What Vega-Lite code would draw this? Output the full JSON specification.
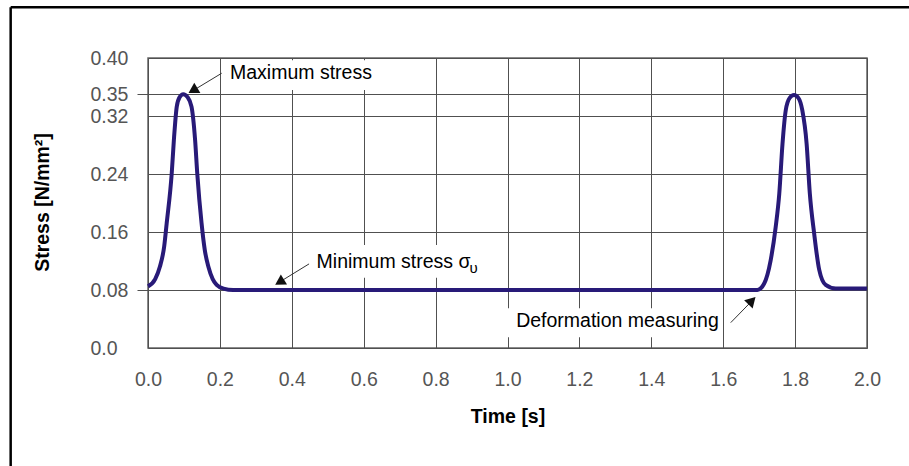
{
  "$schema": "https://vega.github.io/schema/vega-lite/v6.json",
  "width": 719,
  "height": 290,
  "autosize": {"type": "none"},
  "padding": {"left": 148, "top": 58, "right": 42, "bottom": 118},
  "background": "white",
  "config": {"view": {"stroke": "#666666", "strokeWidth": 1.5}, "font": "Liberation Sans"},
  "datasets": {
    "curve": [
      {"x": 0.0, "y": 0.085}, {"x": 0.02, "y": 0.095}, {"x": 0.033, "y": 0.112}, {"x": 0.045, "y": 0.14},
      {"x": 0.052, "y": 0.172}, {"x": 0.066, "y": 0.241}, {"x": 0.072, "y": 0.287}, {"x": 0.08, "y": 0.333},
      {"x": 0.088, "y": 0.346}, {"x": 0.098, "y": 0.35}, {"x": 0.11, "y": 0.346}, {"x": 0.121, "y": 0.333},
      {"x": 0.131, "y": 0.287}, {"x": 0.137, "y": 0.241}, {"x": 0.149, "y": 0.172}, {"x": 0.158, "y": 0.135},
      {"x": 0.168, "y": 0.112}, {"x": 0.18, "y": 0.095}, {"x": 0.191, "y": 0.087}, {"x": 0.21, "y": 0.082},
      {"x": 0.237, "y": 0.08}, {"x": 1.695, "y": 0.08}, {"x": 1.714, "y": 0.089}, {"x": 1.732, "y": 0.121},
      {"x": 1.746, "y": 0.167}, {"x": 1.756, "y": 0.213}, {"x": 1.765, "y": 0.282}, {"x": 1.774, "y": 0.328},
      {"x": 1.785, "y": 0.345}, {"x": 1.797, "y": 0.349}, {"x": 1.809, "y": 0.345}, {"x": 1.82, "y": 0.328},
      {"x": 1.832, "y": 0.282}, {"x": 1.841, "y": 0.213}, {"x": 1.853, "y": 0.158}, {"x": 1.867, "y": 0.108},
      {"x": 1.885, "y": 0.087}, {"x": 1.913, "y": 0.082}, {"x": 2.0, "y": 0.082}
    ],
    "frame": [
      {"x": -0.382, "y": 0.4699, "x2": 2.13, "y2": 0.4699},
      {"x": -0.382, "y": 0.4699, "x2": -0.382, "y2": -0.18}
    ],
    "boxes": [
      {"id": "max", "x": 0.214, "x2": 0.644, "y": 0.397, "y2": 0.356},
      {"id": "min", "x": 0.455, "x2": 0.955, "y": 0.142, "y2": 0.097},
      {"id": "def", "x": 0.992, "x2": 1.594, "y": 0.055, "y2": 0.015}
    ],
    "arrows": [
      {"id": "max", "x": 0.205, "y": 0.379, "x2": 0.125, "y2": 0.355},
      {"id": "min", "x": 0.448, "y": 0.116, "x2": 0.366, "y2": 0.091},
      {"id": "def", "x": 1.621, "y": 0.035, "x2": 1.68, "y2": 0.065}
    ],
    "heads": [
      {"id": "max", "x": 0.125, "y": 0.3552},
      {"id": "min", "x": 0.366, "y": 0.0909},
      {"id": "def", "x": 1.68, "y": 0.0652}
    ],
    "notes": [
      {"label": "Maximum stress", "x": 0.228, "y": 0.379},
      {"label": "Minimum stress σ", "x": 0.469, "y": 0.119},
      {"label": "Deformation measuring", "x": 1.024, "y": 0.0377}
    ],
    "subs": [
      {"label": "υ", "x": 0.894, "y": 0.11}
    ]
  },
  "layer": [
    {
      "data": {"name": "curve"},
      "mark": {"type": "line", "color": "#281a78", "strokeWidth": 4, "interpolate": "monotone"},
      "encoding": {
        "x": {
          "field": "x", "type": "quantitative",
          "scale": {"domain": [0, 2], "nice": false, "zero": false},
          "axis": {
            "values": [0, 0.2, 0.4, 0.6, 0.8, 1.0, 1.2, 1.4, 1.6, 1.8, 2.0],
            "labelExpr": "format(datum.value, '.1f')",
            "grid": true, "gridColor": "#505050", "gridWidth": 1, "gridOpacity": 1,
            "ticks": false, "domain": false,
            "labelPadding": 31, "labelBaseline": "middle", "labelAlign": "center",
            "labelFont": "Liberation Sans", "labelFontSize": 19.5, "labelColor": "#555555",
            "labelOverlap": false, "labelFlush": false, "labelBound": false,
            "title": "Time [s]", "titleFont": "Liberation Sans", "titleFontSize": 19.5,
            "titleFontWeight": "bold", "titleColor": "#000000",
            "titleX": 359.5, "titleY": 68, "titleAlign": "center", "titleBaseline": "middle"
          }
        },
        "y": {
          "field": "y", "type": "quantitative",
          "scale": {"domain": [0, 0.4], "nice": false, "zero": false},
          "axis": {
            "values": [0, 0.08, 0.16, 0.24, 0.32, 0.35, 0.4],
            "labelExpr": "datum.value == 0 ? '0.0' : format(datum.value, '.2f')",
            "grid": true, "gridColor": "#505050", "gridWidth": 1, "gridOpacity": 1,
            "domain": false, "ticks": true, "tickSize": 11, "tickWidth": 1,
            "tickColor": {"condition": {"test": "datum.value == 0.35 || datum.value == 0.08", "value": "#505050"}, "value": "transparent"},
            "labelAlign": "left", "labelPadding": 47, "labelBaseline": "middle",
            "labelFont": "Liberation Sans", "labelFontSize": 19.5, "labelColor": "#555555",
            "labelOverlap": false, "labelFlush": false, "labelBound": false,
            "title": "Stress [N/mm²]", "titleFont": "Liberation Sans", "titleFontSize": 19.5,
            "titleFontWeight": "bold", "titleColor": "#000000",
            "titleX": -106, "titleY": 144, "titleAngle": -90, "titleAlign": "center", "titleBaseline": "middle"
          }
        }
      }
    },
    {
      "data": {"name": "boxes"},
      "mark": {"type": "rect", "color": "white", "opacity": 1},
      "encoding": {
        "x": {"field": "x", "type": "quantitative", "scale": {"domain": [0, 2], "nice": false, "zero": false}},
        "x2": {"field": "x2"},
        "y": {"field": "y", "type": "quantitative", "scale": {"domain": [0, 0.4], "nice": false, "zero": false}},
        "y2": {"field": "y2"}
      }
    },
    {
      "data": {"name": "frame"},
      "mark": {"type": "rule", "color": "#000000", "strokeWidth": 2.5},
      "encoding": {
        "x": {"field": "x", "type": "quantitative", "scale": {"domain": [0, 2], "nice": false, "zero": false}},
        "x2": {"field": "x2"},
        "y": {"field": "y", "type": "quantitative", "scale": {"domain": [0, 0.4], "nice": false, "zero": false}},
        "y2": {"field": "y2"}
      }
    },
    {
      "data": {"name": "arrows"},
      "mark": {"type": "rule", "color": "#333333", "strokeWidth": 1},
      "encoding": {
        "x": {"field": "x", "type": "quantitative", "scale": {"domain": [0, 2], "nice": false, "zero": false}},
        "x2": {"field": "x2"},
        "y": {"field": "y", "type": "quantitative", "scale": {"domain": [0, 0.4], "nice": false, "zero": false}},
        "y2": {"field": "y2"}
      }
    },
    {
      "data": {"name": "heads"},
      "transform": [{"filter": "datum.id == 'max'"}],
      "mark": {"type": "point", "shape": "triangle-up", "filled": true, "color": "#111111", "opacity": 1, "size": 140, "angle": 239},
      "encoding": {
        "x": {"field": "x", "type": "quantitative", "scale": {"domain": [0, 2], "nice": false, "zero": false}},
        "y": {"field": "y", "type": "quantitative", "scale": {"domain": [0, 0.4], "nice": false, "zero": false}}
      }
    },
    {
      "data": {"name": "heads"},
      "transform": [{"filter": "datum.id == 'min'"}],
      "mark": {"type": "point", "shape": "triangle-up", "filled": true, "color": "#111111", "opacity": 1, "size": 140, "angle": 238.5},
      "encoding": {
        "x": {"field": "x", "type": "quantitative", "scale": {"domain": [0, 2], "nice": false, "zero": false}},
        "y": {"field": "y", "type": "quantitative", "scale": {"domain": [0, 0.4], "nice": false, "zero": false}}
      }
    },
    {
      "data": {"name": "heads"},
      "transform": [{"filter": "datum.id == 'def'"}],
      "mark": {"type": "point", "shape": "triangle-up", "filled": true, "color": "#111111", "opacity": 1, "size": 140, "angle": 44},
      "encoding": {
        "x": {"field": "x", "type": "quantitative", "scale": {"domain": [0, 2], "nice": false, "zero": false}},
        "y": {"field": "y", "type": "quantitative", "scale": {"domain": [0, 0.4], "nice": false, "zero": false}}
      }
    },
    {
      "data": {"name": "notes"},
      "mark": {"type": "text", "align": "left", "baseline": "middle", "font": "Liberation Sans", "fontSize": 19.5, "color": "#000000"},
      "encoding": {
        "x": {"field": "x", "type": "quantitative", "scale": {"domain": [0, 2], "nice": false, "zero": false}},
        "y": {"field": "y", "type": "quantitative", "scale": {"domain": [0, 0.4], "nice": false, "zero": false}},
        "text": {"field": "label"}
      }
    },
    {
      "data": {"name": "subs"},
      "mark": {"type": "text", "align": "left", "baseline": "middle", "font": "Liberation Sans", "fontSize": 15, "color": "#000000"},
      "encoding": {
        "x": {"field": "x", "type": "quantitative", "scale": {"domain": [0, 2], "nice": false, "zero": false}},
        "y": {"field": "y", "type": "quantitative", "scale": {"domain": [0, 0.4], "nice": false, "zero": false}},
        "text": {"field": "label"}
      }
    }
  ]
}
